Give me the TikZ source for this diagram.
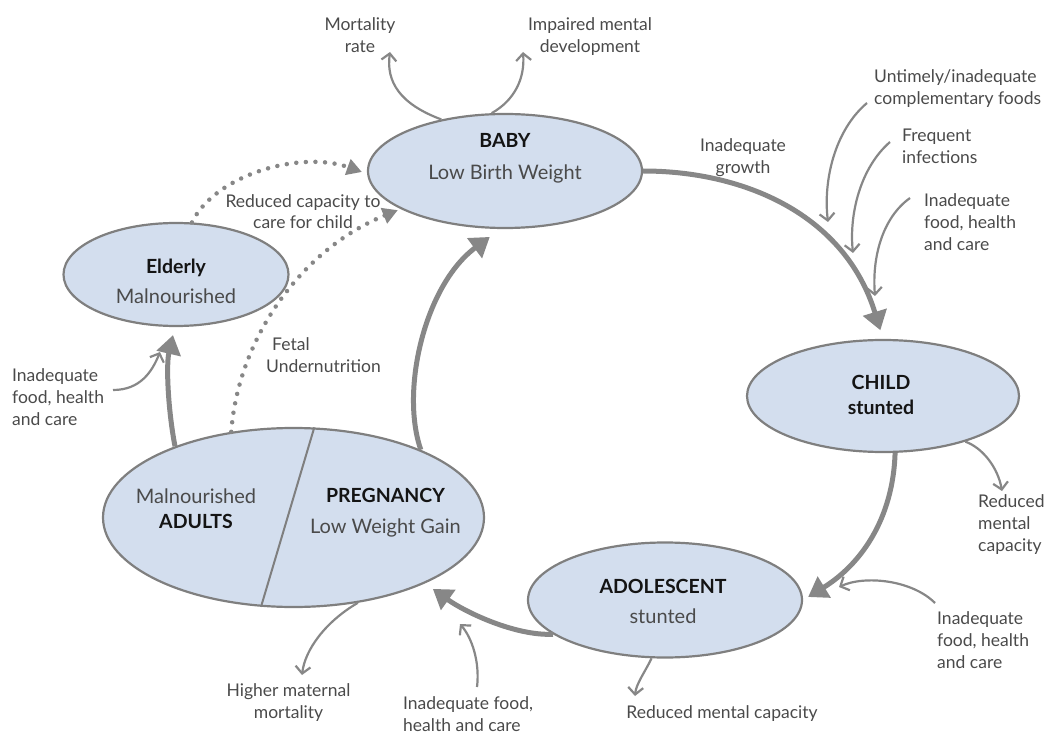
\documentclass[tikz,border=0pt]{standalone}
\usepackage{fontspec}
\setmainfont{Lato}
\usetikzlibrary{arrows.meta,shapes.geometric}
\definecolor{ellfill}{HTML}{D3DEEE}
\definecolor{ellline}{HTML}{7F7F7F}
\definecolor{arr}{HTML}{878787}
\definecolor{txt}{HTML}{4A4A4A}
\tikzset{
 stage/.style={ellipse, draw=ellline, fill=ellfill, line width=2.2pt, inner sep=0pt},
 lbl/.style={font=\fontsize{17.5}{22}\selectfont, text=txt, inner sep=0pt, anchor=base},
 ttl/.style={font=\fontsize{19.5}{22}\selectfont\bfseries, text=black!92, inner sep=0pt, anchor=base},
 sub/.style={font=\fontsize{20}{22}\selectfont, text=txt, inner sep=0pt, anchor=base},
 cyc/.style={draw=arr, line width=5pt, -{Triangle[length=19pt,width=24pt]}},
 thinarr/.style={draw=arr, line width=2.2pt, -{Straight Barb[length=7pt,width=15pt]}},
 dots/.style={draw=arr, line width=4.5pt, line cap=round, dash pattern=on 0pt off 9.6pt, -{Triangle[length=15pt,width=16pt]}},
}
\begin{document}
\begin{tikzpicture}[x=1pt,y=-1pt]
\useasboundingbox (0,0) rectangle (1044,735);
% stages
\node[stage, minimum width=274pt, minimum height=114pt] (baby) at (505,171) {};
\node[stage, minimum width=225pt, minimum height=103pt] (elderly) at (176,274.5) {};
\node[stage, minimum width=272pt, minimum height=112pt] (child) at (883,396) {};
\node[stage, minimum width=274pt, minimum height=115pt] (adol) at (665,600) {};
\node[stage, minimum width=381pt, minimum height=179pt] (adult) at (293.5,517.5) {};
\draw[ellline, line width=2pt] (adult.77) -- (adult.-110);
% stage texts
\node[ttl] (babyT) at (505,148) {BABY};
\node[sub] (babyS) at (505,180) {Low Birth Weight};
\node[ttl] (eldT) at (176,274) {Elderly};
\node[sub] (eldS) at (176,304) {Malnourished};
\node[ttl] (childT) at (881,389) {CHILD};
\node[ttl] (childS) at (881,414) {stunted};
\node[ttl] (adolT) at (663,593) {ADOLESCENT};
\node[sub] (adolS) at (663,623) {stunted};
\node[sub] (adM) at (196,503) {Malnourished};
\node[ttl] (adA) at (196,528) {ADULTS};
\node[ttl] (pregT) at (385.5,502) {PREGNANCY};
\node[sub] (pregS) at (385.5,533) {Low Weight Gain};
% labels (anchor base = baseline of the last line)
\node[lbl, align=center] (mort) at (360,53) {Mortality\\rate};
\node[lbl, align=center] (impair) at (590,53) {Impaired mental\\development};
\node[lbl, align=center] (growth) at (743,174) {Inadequate\\growth};
\node[lbl, align=left, anchor=base west] (untim) at (874,105) {Untimely/inadequate\\complementary foods};
\node[lbl, align=left, anchor=base west] (freq) at (902,164) {Frequent\\infections};
\node[lbl, align=left, anchor=base west] (inadTR) at (924,251) {Inadequate\\food, health\\and care};
\node[lbl, align=left, anchor=base west] (redR) at (978,551) {Reduced\\mental\\capacity};
\node[lbl, align=left, anchor=base west] (inadBR) at (937,668) {Inadequate\\food, health\\and care};
\node[lbl] (redB) at (722,718) {Reduced mental capacity};
\node[lbl, align=left, anchor=base west] (inadB) at (403,731) {Inadequate food,\\health and care};
\node[lbl, align=center] (higher) at (288.5,718) {Higher maternal\\mortality};
\node[lbl, align=left, anchor=base west] (inadL) at (12,425) {Inadequate\\food, health\\and care};
\node[lbl, align=left, anchor=base west] (fetal) at (266,372) {\hspace*{6pt}Fetal\\Undernutrition};
\node[lbl, align=center, font=\fontsize{17.5}{21}\selectfont] (redcap) at (303,229) {Reduced capacity to\\care for child};
% cycle arrows
\draw[cyc, shorten >=9pt] (baby.east) .. controls (745,171) and (845,215) .. (child.north);
\draw[cyc] (child.-78) .. controls (893,520) and (860,565) .. ([xshift=5pt,yshift=3pt]adol.east);
\draw[cyc] (adol.197) .. controls (515,636) and (465,612) .. ([xshift=9pt,yshift=-5pt]adult.-27);
\draw[cyc] (adult.28) .. controls (400,390) and (425,285) .. ([xshift=-5pt,yshift=-8pt]baby.-100);
\draw[cyc] (adult.149) .. controls (168,410) and (166,365) .. ([xshift=-3pt,yshift=-8pt]elderly.south);
% dotted
\draw[dots] (elderly.73) .. controls (215,175) and (300,150) .. ([xshift=-5pt,yshift=-1pt]baby.west);
\draw[dots, shorten >=3pt] (adult.126) .. controls (238,340) and (300,250) .. (baby.200);
% thin arrows
\coordinate (mortE) at (390,52);
\coordinate (impE) at (523,52);
\coordinate (untS) at (867,103);
\coordinate (untE) at (828,222);
\coordinate (frqS) at (890,142);
\coordinate (frqE) at (853,253);
\coordinate (itrS) at (910,198);
\coordinate (itrE) at (875,296);
\coordinate (redRE) at (1002,491);
\coordinate (ibrS) at (935,603);
\coordinate (ibrE) at (839,587);
\coordinate (redBE) at (635,696);
\coordinate (higherE) at (302,675);
\coordinate (ibS) at (477,687);
\coordinate (ibE) at (460,624);
\coordinate (ilS) at (113,390);
\coordinate (ilE) at (160,352);
\draw[thinarr] (baby.141) .. controls (400,104) and (386,82) .. (mortE);
\draw[thinarr] (baby.103) .. controls (515,100) and (525,78) .. (impE);
\draw[thinarr] (untS) .. controls (835,130) and (823,180) .. (untE);
\draw[thinarr] (frqS) .. controls (860,168) and (849,215) .. (frqE);
\draw[thinarr] (itrS) .. controls (882,218) and (872,258) .. (itrE);
\draw[thinarr] (child.-29) .. controls (983,448) and (998,468) .. (redRE);
\draw[thinarr] (ibrS) .. controls (912,580) and (865,575) .. (ibrE);
\draw[thinarr] (adol.-103) .. controls (645,672) and (636,684) .. (redBE);
\draw[thinarr] (adult.-53) .. controls (325,622) and (305,650) .. (higherE);
\draw[thinarr] (ibS) .. controls (480,662) and (472,638) .. (ibE);
\draw[thinarr] (ilS) .. controls (140,390) and (152,372) .. (ilE);
\end{tikzpicture}
\end{document}
